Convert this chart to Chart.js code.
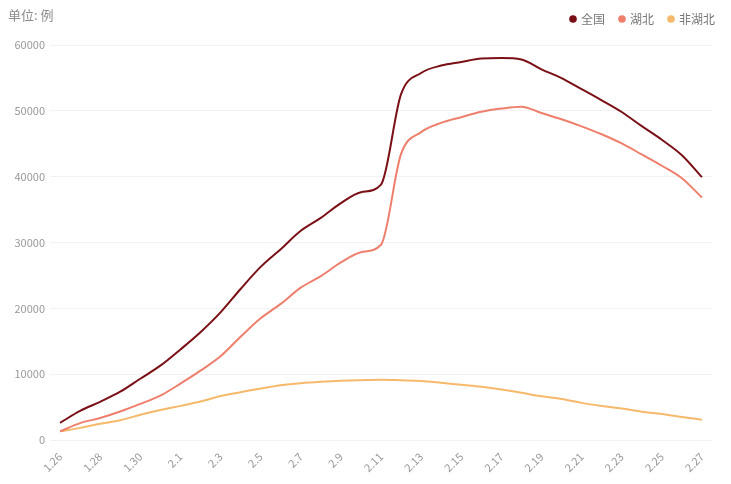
<!DOCTYPE html>
<html>
<head>
<meta charset="utf-8">
<script src="https://cdn.jsdelivr.net/npm/chart.js@4/dist/chart.umd.min.js"></script>
<style>
    body { margin: 0; background: #fff; }
    .wrap { position: relative; width: 731px; height: 484px; }
    .unit { position: absolute; left: 8px; top: 5px; font: 13px "Noto Sans CJK SC", sans-serif; color: #8c8c8c; }
</style>
</head>
<body>
<div class="wrap">
    <div class="unit">单位: 例</div>
    <canvas id="caseChart" width="731" height="484"></canvas>
</div>
<script>
var dates = ['1.26', '1.27', '1.28', '1.29', '1.30', '1.31',
    '2.1', '2.2', '2.3', '2.4', '2.5', '2.6', '2.7', '2.8', '2.9', '2.10',
    '2.11', '2.12', '2.13', '2.14', '2.15', '2.16', '2.17', '2.18', '2.19', '2.20',
    '2.21', '2.22', '2.23', '2.24', '2.25', '2.26', '2.27'];

var national = [2616, 4409, 5806, 7333, 9308, 11289,
    13748, 16369, 19381, 22942, 26302, 28985, 31774, 33738, 35982, 37626,
    38800, 52526, 55748, 56873, 57416, 57934, 58016, 57805, 56303, 54965,
    53284, 51606, 49824, 47672, 45604, 43258, 39919];

var hubei = [1303, 2567, 3349, 4334, 5486, 6738,
    8565, 10532, 12712, 15679, 18483, 20677, 23139, 24881, 26965, 28532,
    29659, 43455, 46768, 48175, 49030, 49847, 50338, 50633, 49665, 48730,
    47647, 46439, 45044, 43369, 41660, 39755, 36829];

var nonHubei = [1313, 1842, 2457, 2999, 3822, 4551,
    5183, 5837, 6669, 7263, 7819, 8308, 8635, 8857, 9017, 9094,
    9141, 9071, 8980, 8698, 8386, 8087, 7678, 7172, 6638, 6235,
    5637, 5167, 4780, 4303, 3944, 3503, 3090];

var yTicks = [0, 10000, 20000, 30000, 40000, 50000, 60000];

var fontFamily = '"Noto Sans CJK SC", "Noto Sans", sans-serif';

function makeLine(label, data, color) {
    return {
        label: label,
        data: data,
        borderColor: color,
        backgroundColor: color,
        borderWidth: 2,
        pointRadius: 0,
        pointStyle: 'circle',
        cubicInterpolationMode: 'monotone',
        fill: false
    };
}

// push the plot area down under the legend, and nudge the legend right/up
var legendSpacer = {
    id: 'legendSpacer',
    beforeInit: function (chart) {
        var origFit = chart.legend.fit;
        chart.legend.fit = function () {
            origFit.bind(chart.legend)();
            this.height += 8;
        };
    },
    afterLayout: function (chart) {
        chart.legend.left += 18;
        chart.legend.right += 18;
        chart.legend.top -= 2;
        chart.legend.bottom -= 2;
    }
};

new Chart(document.getElementById('caseChart').getContext('2d'), {
    type: 'line',
    data: {
        labels: dates,
        datasets: [
            makeLine('全国', national, '#7a1016'),
            makeLine('湖北', hubei, '#ef7f6d'),
            makeLine('非湖北', nonHubei, '#f6b96b')
        ]
    },
    options: {
        responsive: false,
        animation: false,
        layout: { padding: { left: 0, right: 19, top: 0, bottom: 0 } },
        plugins: {
            legend: {
                position: 'top',
                align: 'end',
                labels: {
                    usePointStyle: true,
                    boxWidth: 4,
                    boxHeight: 4,
                    padding: 15,
                    color: '#777',
                    font: { family: fontFamily, size: 12 }
                }
            },
            tooltip: { enabled: false }
        },
        scales: {
            x: {
                offset: true,
                grid: { display: false },
                border: { display: false },
                ticks: {
                    autoSkip: false,
                    minRotation: 45,
                    maxRotation: 45,
                    padding: 2,
                    color: '#999',
                    font: { family: fontFamily, size: 11 },
                    callback: function (value, index) {
                        return index % 2 === 0 ? dates[index] : '';
                    }
                },
                afterFit: function (scale) { scale.height = 44; }
            },
            y: {
                min: yTicks[0],
                max: yTicks[yTicks.length - 1],
                afterBuildTicks: function (scale) {
                    scale.ticks = yTicks.map(function (v) { return { value: v }; });
                },
                grid: { color: '#f2f2f2', drawTicks: false },
                border: { display: false },
                ticks: {
                    padding: 5,
                    color: '#999',
                    font: { family: fontFamily, size: 11 },
                    callback: function (value) { return String(value); }
                },
                afterFit: function (scale) { scale.width = 50; }
            }
        }
    },
    plugins: [legendSpacer]
});
</script>
</body>
</html>
